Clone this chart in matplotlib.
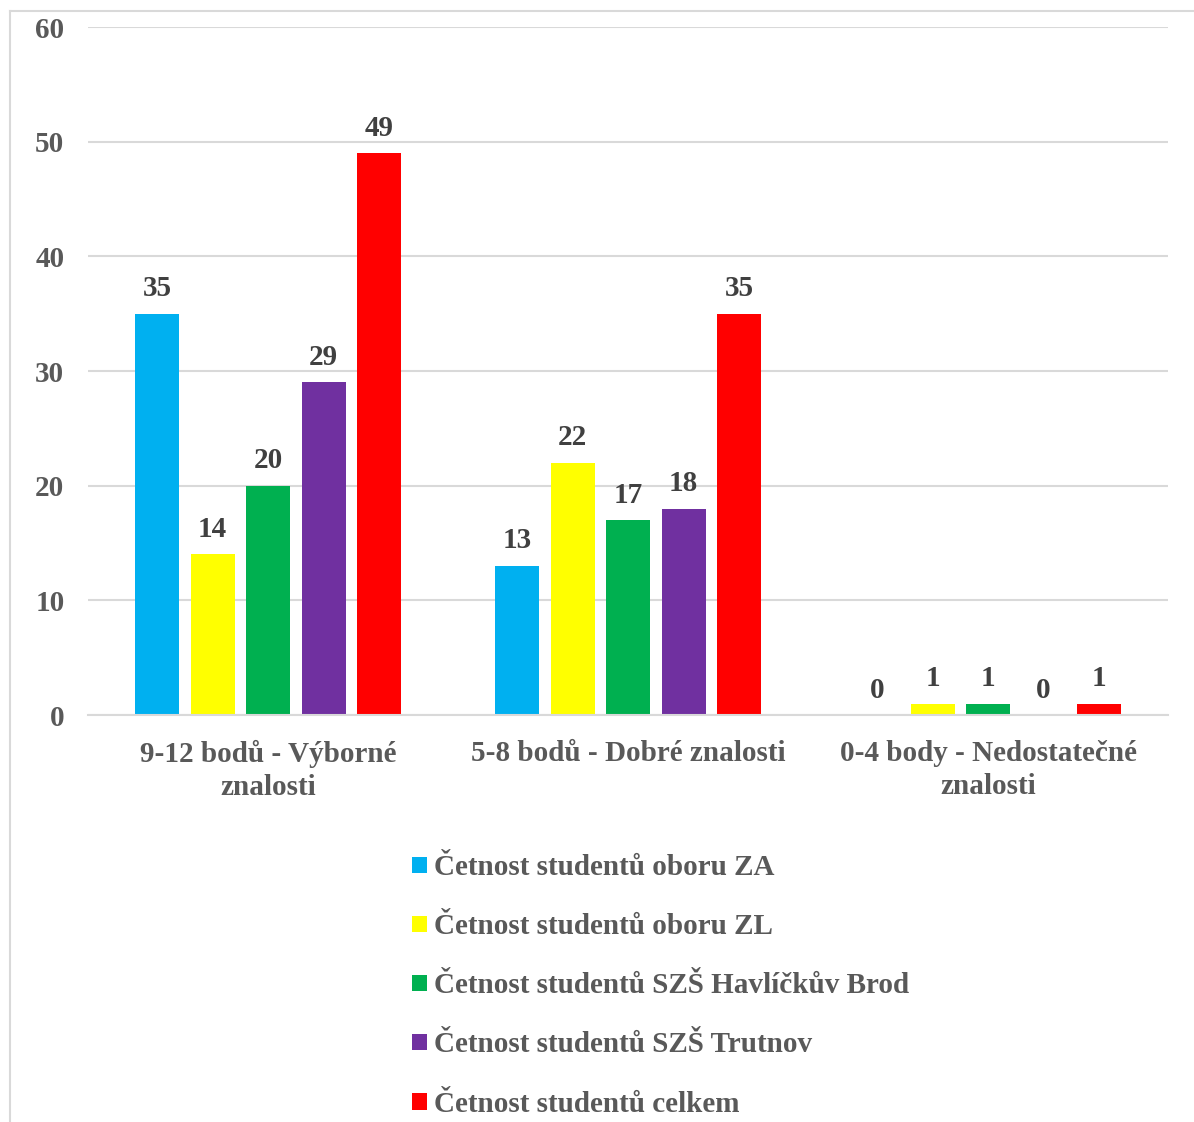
import matplotlib
matplotlib.use("Agg")
import matplotlib.pyplot as plt
import numpy as np
from matplotlib.lines import Line2D
from matplotlib.patches import Patch

categories = ["9-12 bodů - Výborné\nznalosti", "5-8 bodů - Dobré znalosti",
              "0-4 body - Nedostatečné\nznalosti"]
series_names = ["Četnost studentů oboru ZA", "Četnost studentů oboru ZL",
                "Četnost studentů SZŠ Havlíčkův Brod", "Četnost studentů SZŠ Trutnov",
                "Četnost studentů celkem"]
za = [35, 13, 0]
zl = [14, 22, 1]
hb = [20, 17, 1]
trutnov = [29, 18, 0]
celkem = [49, 35, 1]
colors = ["#00B0F0", "#FFFF00", "#00B050", "#7030A0", "#FF0000"]

text_color = "#595959"
plt.rcParams["font.family"] = ["Liberation Serif", "DejaVu Serif"]
plt.rcParams["font.weight"] = "bold"

fig = plt.figure(figsize=(11.94, 11.22), dpi=100)
ax = fig.add_axes([88 / 1194, 1 - 715 / 1122, 1080 / 1194, 688 / 1122])

x = np.arange(len(categories))
step = 55.5 / 360
width = 44 / 360
all_series = [za, zl, hb, trutnov, celkem]
for i, vals in enumerate(all_series):
    pos = x + (i - 2) * step
    bars = ax.bar(pos, vals, width=width, color=colors[i], zorder=3)
    for b, v in zip(bars, vals):
        ax.text(b.get_x() + b.get_width() / 2, v + 1.0, str(v), ha="center", va="bottom",
                fontsize=21, fontweight="bold", color="#404040")

ax.set_xlim(-0.5, 2.5)
ax.set_ylim(0, 60)
ax.set_yticks(range(0, 61, 10))
ax.grid(axis="y", color="#D9D9D9", linewidth=1.5, zorder=0)
ax.set_xticks(x)
ax.set_xticklabels(categories, fontsize=21, fontweight="bold", color=text_color,
                   linespacing=1.3)
ax.tick_params(axis="y", labelsize=21, labelcolor=text_color, length=0, pad=17)
ax.tick_params(axis="x", length=0, pad=18)
for side in ["top", "right", "left"]:
    ax.spines[side].set_visible(False)
ax.spines["bottom"].set_color("#D9D9D9")
ax.spines["bottom"].set_linewidth(1.5)
ax.spines["bottom"].set_zorder(4)

handles = [Patch(facecolor=c, edgecolor="none") for c in colors]
leg = fig.legend(handles, series_names, loc="upper left",
                 bbox_to_anchor=(386 / 1194, 1 - 828 / 1122), frameon=False,
                 prop={"family": "Liberation Serif", "weight": "bold", "size": 21},
                 handlelength=0.5, handleheight=0.5, handletextpad=0.25,
                 labelspacing=1.1, labelcolor=text_color)

# outer frame (only top and left visible in the crop)
fig.add_artist(Line2D([9.5 / 1194, 1.0], [1 - 11 / 1122, 1 - 11 / 1122],
                      transform=fig.transFigure, color="#D9D9D9", linewidth=1.5))
fig.add_artist(Line2D([9.5 / 1194, 9.5 / 1194], [0, 1 - 11 / 1122],
                      transform=fig.transFigure, color="#D9D9D9", linewidth=1.5))

fig.savefig("out.png", dpi=100)
